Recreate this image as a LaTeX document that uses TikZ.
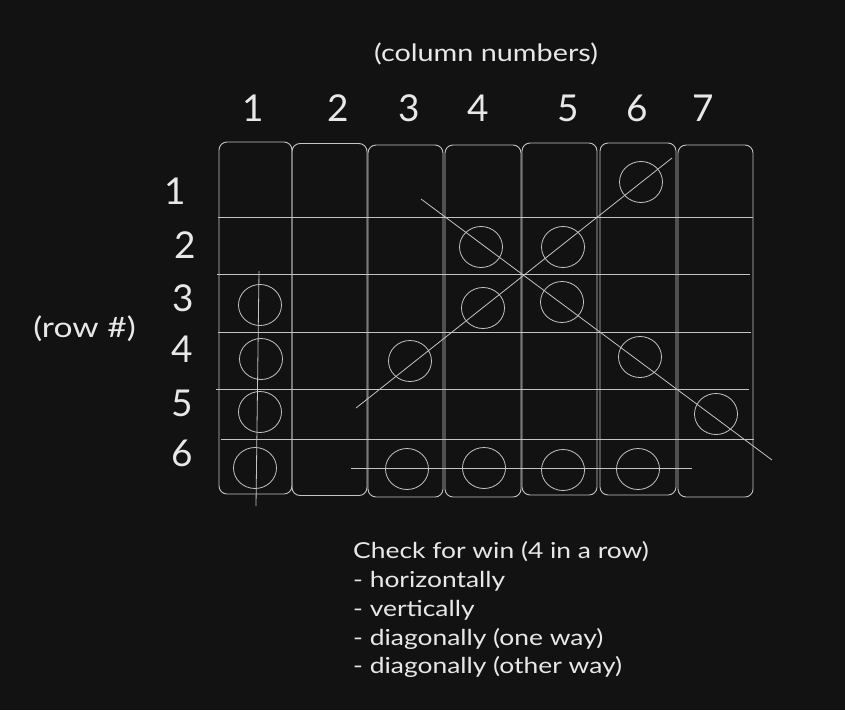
\documentclass[tikz,border=0pt]{standalone}
\usepackage{fontspec}
\setmainfont{Lato}
\newfontfamily\widefont[FakeStretch=1.2]{Lato}
\usetikzlibrary{shapes.geometric}
\definecolor{bg}{HTML}{121212}
\definecolor{ink}{HTML}{C4C4C4}
\definecolor{txt}{HTML}{E8E8E8}
\begin{document}
\begin{tikzpicture}[x=1pt,y=-1pt,
  colbox/.style={draw=ink, line width=0.9pt, rounded corners=8pt, rectangle,
                 minimum width=#1, minimum height=352pt, inner sep=0pt},
  chip/.style={draw=ink, line width=0.8pt, ellipse, minimum width=43pt,
               minimum height=41pt, inner sep=0pt},
  gridline/.style={draw=ink, line width=0.8pt},
  num/.style={text=txt, inner sep=0pt, font=\fontsize{37}{40}\selectfont},
  note/.style={text=txt, inner sep=0pt, font=\widefont\fontsize{#1}{30}\selectfont},
  listline/.style={text=txt, inner sep=0pt, anchor=base west, font=\widefont\fontsize{22}{29}\selectfont}
]
\fill[bg] (0,0) rectangle (845,710);
\useasboundingbox (0,0) rectangle (845,710);

% column boxes
\node[colbox=73pt] (c1) at (255.5,318) {};
\node[colbox=75pt] (c2) at (329.5,319.5) {};
\node[colbox=75pt] (c3) at (405.5,321) {};
\node[colbox=76pt] (c4) at (483,321) {};
\node[colbox=75pt] (c5) at (559.5,319) {};
\node[colbox=76pt] (c6) at (638,319) {};
\node[colbox=75pt] (c7) at (715.5,321) {};

% row separators
\coordinate (h1a) at (218,217); \coordinate (h1b) at (753,217);
\coordinate (h2a) at (217,274); \coordinate (h2b) at (750,274);
\coordinate (h3a) at (218,332); \coordinate (h3b) at (751,332);
\coordinate (h4a) at (216,389); \coordinate (h4b) at (749,389);
\coordinate (h5a) at (221,439); \coordinate (h5b) at (754,439);
\draw[gridline] (h1a) -- (h1b);
\draw[gridline] (h2a) -- (h2b);
\draw[gridline] (h3a) -- (h3b);
\draw[gridline] (h4a) -- (h4b);
\draw[gridline] (h5a) -- (h5b);

% chips
\node[chip] (p13) at (260,305) {};
\node[chip] (p14) at (261,359) {};
\node[chip] (p15) at (260,412) {};
\node[chip] (p16) at (255,468) {};
\node[chip] (p34) at (410,361) {};
\node[chip] (p36) at (407,469) {};
\node[chip] (p42) at (481,247) {};
\node[chip] (p43) at (483,308) {};
\node[chip] (p46) at (484,468) {};
\node[chip] (p52) at (563,247) {};
\node[chip] (p53) at (562,302) {};
\node[chip] (p56) at (563,470) {};
\node[chip] (p61) at (641,182) {};
\node[chip] (p64) at (640,357) {};
\node[chip] (p66) at (638,469) {};
\node[chip] (p75) at (716,414) {};

% win lines
\coordinate (va) at (259,271); \coordinate (vb) at (256,506);
\draw[gridline] (va) -- (vb);
\coordinate (ha) at (351,468); \coordinate (hb) at (692,468);
\draw[gridline] (ha) -- (hb);
\coordinate (da) at (356,408); \coordinate (db) at (672,158);
\draw[gridline] (da) -- (db);
\coordinate (ea) at (421,199); \coordinate (eb) at (772,460);
\draw[gridline] (ea) -- (eb);

% labels
\node[note=24] (colnote) at (486,54) {(column numbers)};
\node[note=28, anchor=base] (rownote) at (84.5,337) {(row \#)};

\node[num] (n1) at (253,108) {1};
\node[num] (n2) at (338,108) {2};
\node[num] (n3) at (409,108) {3};
\node[num] (n4) at (478,108) {4};
\node[num] (n5) at (568,108) {5};
\node[num] (n6) at (637,108) {6};
\node[num] (n7) at (703,108) {7};

\node[num] (r1) at (175,191.5) {1};
\node[num] (r2) at (185,245.5) {2};
\node[num] (r3) at (183,298) {3};
\node[num] (r4) at (182,349.5) {4};
\node[num] (r5) at (182,403) {5};
\node[num] (r6) at (182,453) {6};

\node[listline] (t1) at (353,558) {Check for win (4 in a row)};
\node[listline] (t2) at (353,587) {- horizontally};
\node[listline] (t3) at (353,616) {- vertically};
\node[listline] (t4) at (353,645) {- diagonally (one way)};
\node[listline] (t5) at (353,673) {- diagonally (other way)};
\end{tikzpicture}
\end{document}
